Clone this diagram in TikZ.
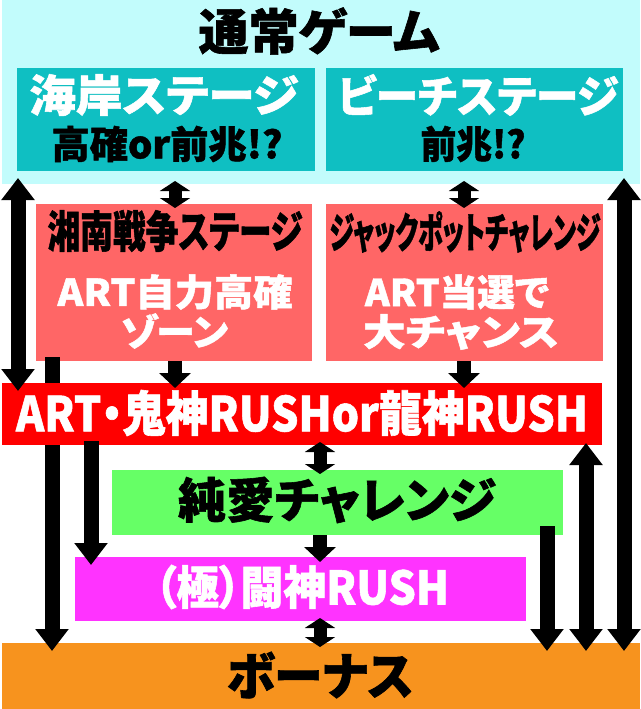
\documentclass[tikz,border=0pt]{standalone}
\usepackage{fontspec}
\setmainfont{Noto Sans CJK JP}[RawFeature=+palt, BoldFeatures={FakeBold=1.2}]
\usepackage{graphicx}
\usetikzlibrary{arrows.meta}

\definecolor{normalbg}{HTML}{C2FCFC}
\definecolor{stagebox}{HTML}{0FBFC2}
\definecolor{zonebox}{HTML}{FF6666}
\definecolor{artbox}{HTML}{FF0000}
\definecolor{junaibox}{HTML}{66FF66}
\definecolor{toshinbox}{HTML}{FF33FF}
\definecolor{bonusbox}{HTML}{F7931E}

\newcommand{\fitline}[3]{\resizebox{#1pt}{\height}{\fontsize{#2}{#2}\selectfont\bfseries #3}}

\tikzset{
  area/.style={rectangle, anchor=north west, inner sep=0pt, outer sep=0pt},
  lbl/.style={inner sep=0pt, outer sep=0pt},
  bigarrow/.style={line width=15pt, -{Triangle[width=32pt,length=22pt]}, shorten >=-8pt, shorten <=-4pt},
  bigdouble/.style={line width=15pt, {Triangle[width=32pt,length=22pt]}-{Triangle[width=32pt,length=22pt]}, shorten >=-8pt, shorten <=-6pt},
  smallarrow/.style={line width=14pt, -{Triangle[width=31pt,length=15pt]}, shorten >=-5pt},
  smalldouble/.style={line width=13pt, {Triangle[width=30pt,length=10pt]}-{Triangle[width=30pt,length=10pt]}, shorten >=-4pt, shorten <=-3pt},
}

\begin{document}
\begin{tikzpicture}[x=1pt, y=-1pt]
  \useasboundingbox (0,0) rectangle (640,709);

  \node[area, fill=normalbg, minimum width=638pt, minimum height=184pt] (normal) at (2,0) {};
  \node[area, fill=stagebox, minimum width=298pt, minimum height=103pt] (kaigan) at (17,68) {};
  \node[area, fill=stagebox, minimum width=297pt, minimum height=103pt] (beach) at (326,68) {};
  \node[area, fill=zonebox, minimum width=276pt, minimum height=157pt] (shonan) at (36,204) {};
  \node[area, fill=zonebox, minimum width=277pt, minimum height=157pt] (jackpot) at (326,204) {};
  \node[area, fill=junaibox, minimum width=451pt, minimum height=65pt] (junai) at (112,470) {};
  \node[area, fill=toshinbox, minimum width=451pt, minimum height=64pt] (toshin) at (75,557) {};
  \node[area, fill=bonusbox, minimum width=638pt, minimum height=66pt] (bonus) at (2,643) {};

  \coordinate (colA) at (18,0);
  \coordinate (colB) at (52,0);
  \coordinate (colC) at (91,0);
  \coordinate (colD) at (175,0);
  \coordinate (colM) at (320,0);
  \coordinate (colE) at (464,0);
  \coordinate (colF) at (547,0);
  \coordinate (colG) at (586,0);
  \coordinate (colH) at (624,0);

  % runs behind the ART bar
  \draw[bigarrow] (colB |- shonan.south) -- (colB |- bonus.north);

  \node[area, fill=artbox, minimum width=600pt, minimum height=62pt] (art) at (2,383) {};

  \node[lbl] (normaltxt) at (319,31) {\fitline{241}{49}{通常ゲーム}};
  \node[lbl, white] (kaigantxt) at (164,95) {\fitline{269}{44}{海岸ステージ}};
  \node[lbl] (kaigansub) at (167,144) {\fitline{231}{38}{高確or前兆!?}};
  \node[lbl, white] (beachtxt) at (478,95) {\fitline{281}{44}{ビーチステージ}};
  \node[lbl] (beachsub) at (473,144) {\fitline{105}{38}{前兆!?}};
  \node[lbl] (shonantxt) at (175,231) {\fitline{255}{44}{湘南戦争ステージ}};
  \node[lbl, white] (shonansub) at (175,292) {\fitline{235}{37}{ART自力高確}};
  \node[lbl, white] (shonanzone) at (174,331) {\fitline{108}{37}{ゾーン}};
  \node[lbl] (jackpottxt) at (465,232) {\fitline{271}{42}{ジャックポットチャレンジ}};
  \node[lbl, white] (jackpotsub) at (457,292) {\fitline{184}{37}{ART当選で}};
  \node[lbl, white] (jackpotchance) at (461,332) {\fitline{196}{37}{大チャンス}};
  \node[lbl, white] (arttxt) at (302,413) {\fitline{572}{48}{ART・鬼神RUSHor龍神RUSH}};
  \node[lbl] (junaitxt) at (337,500) {\fitline{318}{48}{純愛チャレンジ}};
  \node[lbl, white] (toshintxt) at (302,587) {\fitline{294}{46}{（極）闘神RUSH}};
  \node[lbl] (bonustxt) at (320,675) {\fitline{187}{51}{ボーナス}};

  \draw[bigdouble] (colA |- normal.south) -- (colA |- art.north);
  \draw[smalldouble] (colD |- normal.south) -- (colD |- shonan.north);
  \draw[smalldouble] (colE |- normal.south) -- (colE |- jackpot.north);
  \draw[bigdouble] (colH |- normal.south) -- (colH |- bonus.north);
  \draw[smallarrow] (colD |- shonan.south) -- (colD |- art.north);
  \draw[smallarrow] (colE |- jackpot.south) -- (colE |- art.north);
  \draw[bigarrow] (colC |- art.south) -- (colC |- toshin.north);
  \draw[smalldouble] (colM |- art.south) -- (colM |- junai.north);
  \draw[bigdouble, shorten <=-2pt] (colG |- art.south) -- (colG |- bonus.north);
  \draw[smallarrow] (colM |- junai.south) -- (colM |- toshin.north);
  \draw[bigarrow, shorten <=-9pt] (colF |- junai.south) -- (colF |- bonus.north);
  \draw[smalldouble] (colM |- toshin.south) -- (colM |- bonus.north);
\end{tikzpicture}
\end{document}
